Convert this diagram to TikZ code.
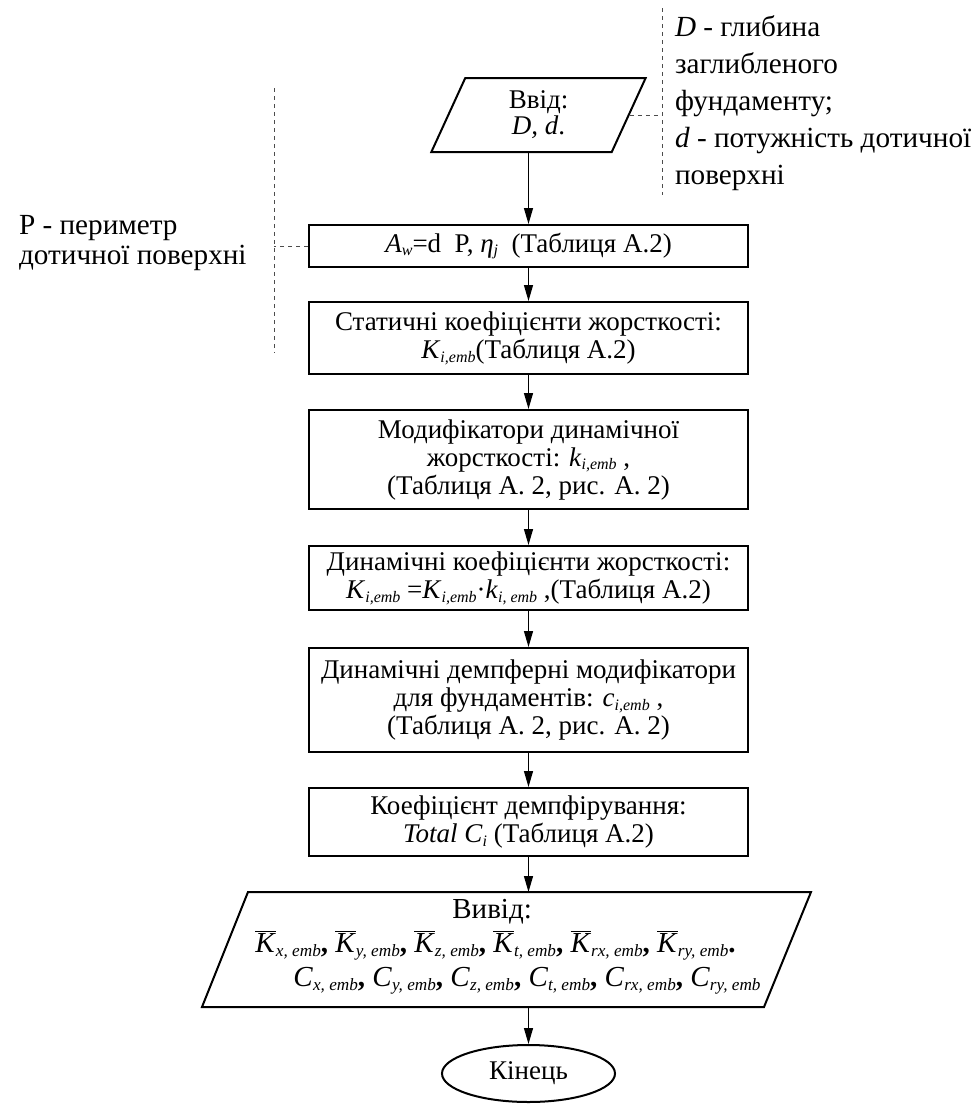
\documentclass[tikz,border=0pt]{standalone}
\usepackage{fontspec}
\setmainfont{Liberation Serif}
\usetikzlibrary{shapes,arrows.meta,positioning,calc}
\newcommand{\sub}[1]{\raisebox{-0.3ex}{\fontsize{8pt}{8pt}\selectfont\textit{#1}}}
\newcommand{\osub}[1]{\raisebox{-0.3ex}{\fontsize{8.6pt}{8.6pt}\selectfont\textit{#1}}}
\newcommand{\Kb}[1]{$\overline{\mbox{\textit{K}}}$\osub{#1}}
\newcommand{\Co}[1]{\textit{C}\osub{#1}}
\newcommand{\cm}{\textbf{,}}

\begin{document}
\begin{tikzpicture}[
    x=0.5pt, y=-0.5pt,
    font=\fontsize{13.5pt}{14pt}\selectfont,
    block/.style={draw, line width=1pt, minimum width=219.5pt, inner sep=0pt,
                  align=center},
    io/.style={draw, trapezium, trapezium stretches, line width=1pt,
               inner sep=0pt, align=center},
    arr/.style={-{Triangle[length=8pt,width=4.5pt]}, line width=0.65pt},
    note/.style={dash pattern=on 2pt off 2pt, line width=0.5pt, black!70}
]
\useasboundingbox (0,0) rectangle (976,1104);

% Input
\node[io, trapezium left angle=74, trapezium right angle=106,
      minimum width=107.5pt, minimum height=37pt,
      font=\fontsize{13.5pt}{13pt}\selectfont] (inp) at (538.5,115)
      {Ввід:\\\textit{D, d}.};

% Blocks
\node[block, minimum height=21pt] (aw) at (528.5,246)
    {\textit{A}\sub{w}=d\ \ P, \textit{η}\sub{j}\ \ (Таблиця А.2)};
\node[block, minimum height=36pt] (stat) at (528.5,338)
    {Статичні коефіцієнти жорсткості:\\\textit{K}\sub{i,emb}(Таблиця А.2)};
\node[block, minimum height=49.5pt] (modk) at (528.5,459.5)
    {Модифікатори динамічної\\жорсткості: \textit{k}\sub{i,emb} ,\\(Таблиця А. 2, рис. А. 2)};
\node[block, minimum height=32pt] (dynk) at (528.5,578)
    {Динамічні коефіцієнти жорсткості:\\\textit{K}\sub{i,emb} =\textit{K}\sub{i,emb}·\textit{k}\sub{i, emb} ,(Таблиця А.2)};
\node[block, minimum height=52pt] (modc) at (528.5,700)
    {Динамічні демпферні модифікатори\\для фундаментів: \textit{c}\sub{i,emb} ,\\(Таблиця А. 2, рис. А. 2)};
\node[block, minimum height=34pt] (damp) at (528.5,822)
    {Коефіцієнт демпфірування:\\\textit{Total C}\sub{i} (Таблиця А.2)};

% Output
\coordinate (otl) at (248,892);
\coordinate (otr) at (811,892);
\coordinate (obr) at (764,1007);
\coordinate (obl) at (202,1007);
\coordinate (otop) at (528.5,892);
\coordinate (obot) at (528.5,1007);
\draw[line width=1pt] (otl) -- (otr) -- (obr) -- (obl) -- cycle;
\node[anchor=west, align=left, inner sep=0pt,
      font=\fontsize{14.5pt}{17pt}\selectfont] (outp) at (255,947)
    {\hspace*{98.5pt}Вивід:\\
     \Kb{x, emb}\cm{} \Kb{y, emb}\cm{} \Kb{z, emb}\cm{} \Kb{t, emb}\cm{} \Kb{rx, emb}\cm{} \Kb{ry, emb}\textbf{.}\\
     \hspace*{19pt}\Co{x, emb}\cm\ \Co{y, emb}\cm\ \Co{z, emb}\cm\ \Co{t, emb}\cm\ \Co{rx, emb}\cm\ \Co{ry, emb}};

% End
\node[draw, ellipse, line width=1pt, inner sep=0pt, minimum width=86.5pt,
      minimum height=28.5pt] (fin) at (528.5,1073.5) {Кінець};

% Connectors
\draw[arr] (aw |- inp.south) -- (aw);
\draw[arr] (aw) -- (stat);
\draw[arr] (stat) -- (modk);
\draw[arr] (modk) -- (dynk);
\draw[arr] (dynk) -- (modc);
\draw[arr] (modc) -- (damp);
\draw[arr] (damp) -- (otop);
\draw[arr] (obot) -- (fin);

% Notes
\coordinate (dtop) at (662,8);
\coordinate (dbot) at (662,195);
\draw[note] (inp.east) -- (inp.east -| dtop);
\draw[note] (dtop) -- (dbot);
\node[anchor=north west, align=left, font=\fontsize{14.6pt}{18.5pt}\selectfont]
    (dnote) at (668,9)
    {\textit{D} - глибина\\заглибленого\\фундаменту;\\\textit{d} - потужність дотичної\\поверхні};

\coordinate (ptop) at (274,88);
\coordinate (pbot) at (274,353);
\draw[note] (aw.west) -- (aw.west -| ptop);
\draw[note] (ptop) -- (pbot);
\node[anchor=west, align=left, font=\fontsize{14.6pt}{15pt}\selectfont]
    (pnote) at (12,243) {P - периметр\\дотичної поверхні};
\end{tikzpicture}
\end{document}
